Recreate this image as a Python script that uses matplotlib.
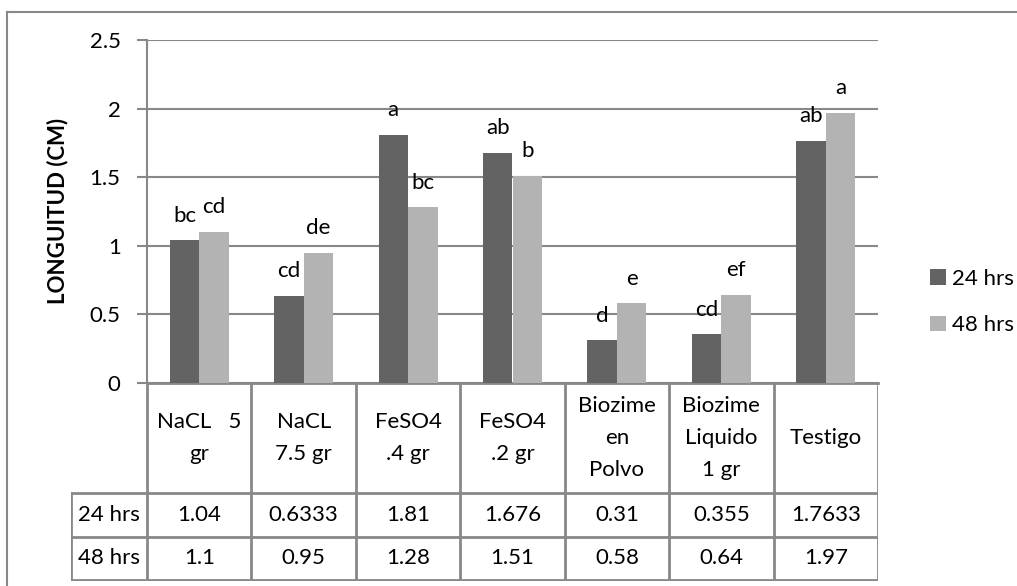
import numpy as np
import matplotlib
matplotlib.use("Agg")
import matplotlib.pyplot as plt
from matplotlib.lines import Line2D

plt.rcParams['font.family'] = ['Lato', 'DejaVu Sans']

# datos
categorias = ["NaCL   5\ngr", "NaCL\n7.5 gr", "FeSO4\n.4 gr", "FeSO4\n.2 gr",
              "Biozime\nen\nPolvo", "Biozime\nLiquido\n1 gr", "Testigo"]
series = ["24 hrs", "48 hrs"]
v24 = [1.04, 0.6333, 1.81, 1.676, 0.31, 0.355, 1.7633]
v48 = [1.1, 0.95, 1.28, 1.51, 0.58, 0.64, 1.97]
txt24 = ["1.04", "0.6333", "1.81", "1.676", "0.31", "0.355", "1.7633"]
txt48 = ["1.1", "0.95", "1.28", "1.51", "0.58", "0.64", "1.97"]
letras24 = ["bc", "cd", "a", "ab", "d", "cd", "ab"]
letras48 = ["cd", "de", "bc", "b", "e", "ef", "a"]

c24 = "#636363"
c48 = "#b3b3b3"
gris = "#888888"
fs = 16
W, H = 1017, 586

fig = plt.figure(figsize=(W / 100, H / 100), dpi=100)

def px(x0, y0, x1, y1):
    return [x0 / W, 1 - y1 / H, (x1 - x0) / W, (y1 - y0) / H]

# borde exterior del grafico
fig.add_artist(Line2D([7 / W, 7 / W], [0, 1 - 12 / H], color=gris, lw=1.5))
fig.add_artist(Line2D([7 / W, 1], [1 - 12 / H, 1 - 12 / H], color=gris, lw=1.5))

ax = fig.add_axes(px(147, 40, 878, 383))
n = len(categorias)
x = np.arange(n) + 0.5
bw = 0.283
ax.bar(x - bw / 2, v24, bw, color=c24, zorder=3, label=series[0])
ax.bar(x + bw / 2, v48, bw, color=c48, zorder=3, label=series[1])

for i in range(n):
    ax.text(x[i] - bw / 2, v24[i] + 0.18, letras24[i], ha='center', va='center', fontsize=fs, zorder=4)
    ax.text(x[i] + bw / 2, v48[i] + 0.18, letras48[i], ha='center', va='center', fontsize=fs, zorder=4)

ax.set_xlim(0, n)
ax.set_ylim(0, 2.5)
ax.set_yticks(np.arange(0, 2.51, 0.5))
ax.set_yticklabels(["0", "0.5", "1", "1.5", "2", "2.5"], fontsize=fs)
ax.yaxis.grid(True, color=gris, lw=1.5, zorder=0)
ax.set_xticks([])
ax.tick_params(axis='y', length=7, width=1.5, color=gris, pad=12)
for s in ["top", "right"]:
    ax.spines[s].set_visible(False)
ax.spines["left"].set_color(gris)
ax.spines["left"].set_linewidth(1.5)
ax.spines["bottom"].set_color(gris)
ax.spines["bottom"].set_linewidth(2)
fig.text(58 / W, 1 - 211 / H, "LONGUITUD (CM)", rotation=90, ha='center', va='center',
         fontsize=fs, fontweight='bold')

# tabla de datos
left_units = (147 - 71) / ((878 - 147) / n)
tab = fig.add_axes(px(71, 383, 878, 581))
tab.set_xlim(-left_units, n)
tab.set_ylim(581, 383)
tab.axis('off')
y_h, y_r1, y_r2, y_b = 383, 493, 537, 580
lk = dict(color=gris, lw=2, solid_capstyle='projecting')
for k in range(n + 1):
    tab.plot([k, k], [y_h, y_b], **lk)
tab.plot([-left_units, -left_units], [y_r1, y_b], **lk)
for yy in (y_r1, y_r2, y_b):
    tab.plot([-left_units, n], [yy, yy], **lk)
for i in range(n):
    tab.text(i + 0.5, (y_h + y_r1) / 2, categorias[i], ha='center', va='center',
             fontsize=fs, linespacing=1.72)
    tab.text(i + 0.5, (y_r1 + y_r2) / 2, txt24[i], ha='center', va='center', fontsize=fs)
    tab.text(i + 0.5, (y_r2 + y_b) / 2, txt48[i], ha='center', va='center', fontsize=fs)
tab.text(-left_units / 2, (y_r1 + y_r2) / 2, series[0], ha='center', va='center', fontsize=fs)
tab.text(-left_units / 2, (y_r2 + y_b) / 2, series[1], ha='center', va='center', fontsize=fs)

# leyenda
h, l = ax.get_legend_handles_labels()
fig.legend(h, l, loc='center left', bbox_to_anchor=(919 / W, 1 - 302 / H), frameon=False,
           fontsize=fs, borderpad=0, handlelength=0.7, handleheight=0.7, handletextpad=0.3,
           labelspacing=1.2)

fig.savefig("out.png", dpi=100)
